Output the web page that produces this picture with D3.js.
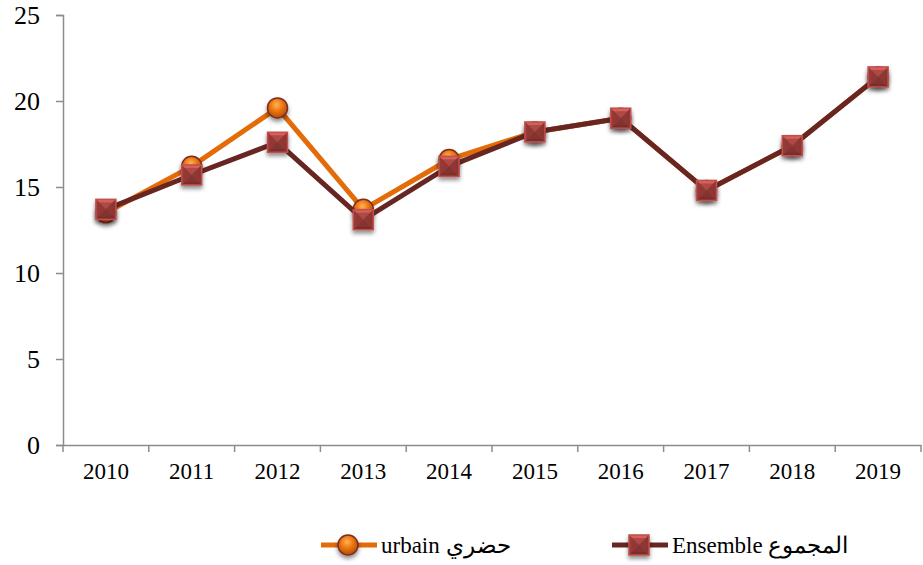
<!DOCTYPE html>
<html>
<head>
<meta charset="utf-8">
<script src="https://cdn.jsdelivr.net/npm/d3@7"></script>
<style>
  body { margin: 0; background: #fff; }
</style>
</head>
<body>
<svg id="chart" width="923" height="565"></svg>
<script>
// chart values
var years = ["2010", "2011", "2012", "2013", "2014", "2015", "2016", "2017", "2018", "2019"];
var urbain = [13.5, 16.2, 19.6, 13.7, 16.6, 18.2, 19.0, 14.8, 17.4, 21.4];
var ensemble = [13.7, 15.7, 17.6, 13.1, 16.2, 18.2, 19.0, 14.8, 17.4, 21.4];
var yTicks = [0, 5, 10, 15, 20, 25];
var seriesNames = ["urbain حضري", "Ensemble المجموع"];

var svg = d3.select("#chart");
var margin = { top: 15, left: 63, right: 2, bottom: 120 };
var width = 923 - margin.left - margin.right;
var height = 565 - margin.top - margin.bottom;

var chartGroup = svg.append("g")
  .attr("transform", `translate(${margin.left}, ${margin.top})`);

var defs = svg.append("defs");

// soft shadow under markers
var shadow = defs.append("filter").attr("id", "shadow")
  .attr("x", "-50%").attr("y", "-50%").attr("width", "200%").attr("height", "200%");
shadow.append("feDropShadow")
  .attr("dx", 0).attr("dy", 3).attr("stdDeviation", 2)
  .attr("flood-color", "#000").attr("flood-opacity", 0.45);

// orange ball gradient
var ball = defs.append("radialGradient").attr("id", "ball")
  .attr("cx", "45%").attr("cy", "35%").attr("r", "65%");
ball.append("stop").attr("offset", "0%").attr("stop-color", "#ffb25a");
ball.append("stop").attr("offset", "45%").attr("stop-color", "#ee7a12");
ball.append("stop").attr("offset", "100%").attr("stop-color", "#b24c05");

var x = d3.scaleBand().domain(years).range([0, width]);
var y = d3.scaleLinear().domain([0, 25]).range([height, 0]);

// y axis
var leftAxis = d3.axisLeft(y).tickValues(yTicks).tickSize(7).tickPadding(16);
var yAxis = chartGroup.append("g").call(leftAxis);
yAxis.select(".domain").attr("stroke", "#8c8c8c").attr("stroke-width", 1.5);
yAxis.selectAll(".tick line").attr("stroke", "#8c8c8c").attr("stroke-width", 1.5);
yAxis.selectAll("text")
  .attr("font-family", "Liberation Serif")
  .attr("font-size", 26)
  .attr("fill", "#000");

// x axis
var bottomAxis = d3.axisBottom(x).tickSize(0).tickPadding(18);
var xAxis = chartGroup.append("g")
  .attr("transform", `translate(0, ${height})`)
  .call(bottomAxis);
xAxis.select(".domain").attr("stroke", "#8c8c8c").attr("stroke-width", 1.5);
xAxis.selectAll("text")
  .attr("font-family", "Liberation Serif")
  .attr("font-size", 23)
  .attr("fill", "#000");

// tick marks between categories
xAxis.selectAll(".sep")
  .data(years.concat(["end"]))
  .enter()
  .append("line")
    .attr("x1", d => d === "end" ? width : x(d))
    .attr("x2", d => d === "end" ? width : x(d))
    .attr("y1", 0).attr("y2", 7)
    .attr("stroke", "#8c8c8c").attr("stroke-width", 1.5);

var cx = d => x(d) + x.bandwidth() / 2;
var line = d3.line().x(d => cx(d.year)).y(d => y(d.v));

var urbData = years.map((d, i) => ({ year: d, v: urbain[i] }));
var ensData = years.map((d, i) => ({ year: d, v: ensemble[i] }));

function drawBall(g, px, py) {
  g.append("circle")
    .attr("cx", px).attr("cy", py).attr("r", 10)
    .attr("fill", "url(#ball)")
    .attr("stroke", "#7e2b22").attr("stroke-width", 1.5)
    .attr("filter", "url(#shadow)");
}

function drawSquare(g, px, py) {
  var s = 10;
  var sq = g.append("g").attr("transform", `translate(${px}, ${py})`)
    .attr("filter", "url(#shadow)");
  sq.append("rect")
    .attr("x", -s).attr("y", -s).attr("width", 2 * s).attr("height", 2 * s)
    .attr("fill", "#a8423e");
  // bevelled pyramid faces
  var faces = [
    { p: [[-s, -s], [s, -s], [0, 0]], c: "#d5615b" },
    { p: [[-s, -s], [-s, s], [0, 0]], c: "#963a36" },
    { p: [[s, -s], [s, s], [0, 0]], c: "#8c3632" },
    { p: [[-s, s], [s, s], [0, 0]], c: "#7a2e2b" }
  ];
  sq.selectAll("path").data(faces).enter().append("path")
    .attr("d", d => "M" + d.p.join("L") + "Z")
    .attr("fill", d => d.c);
  sq.append("rect")
    .attr("x", -s + 3).attr("y", -s + 3).attr("width", 2 * s - 6).attr("height", 2 * s - 6)
    .attr("fill", "#8e3834").attr("opacity", 0.55);
  sq.append("rect")
    .attr("x", -s).attr("y", -s).attr("width", 2 * s).attr("height", 2 * s)
    .attr("fill", "none").attr("stroke", "#c0504d").attr("stroke-width", 1.5);
}

// urbain series
chartGroup.append("path")
  .datum(urbData)
  .attr("d", line)
  .attr("fill", "none")
  .attr("stroke", "#e36c09")
  .attr("stroke-width", 5)
  .attr("stroke-linejoin", "round");

var urbMarkers = chartGroup.append("g");
urbData.forEach(d => drawBall(urbMarkers, cx(d.year), y(d.v)));

// ensemble series
chartGroup.append("path")
  .datum(ensData)
  .attr("d", line)
  .attr("fill", "none")
  .attr("stroke", "#682622")
  .attr("stroke-width", 5)
  .attr("stroke-linejoin", "round");

var ensMarkers = chartGroup.append("g");
ensData.forEach(d => drawSquare(ensMarkers, cx(d.year), y(d.v)));

// legend
var legend = svg.append("g").attr("transform", "translate(0, 545)");

legend.append("line")
  .attr("x1", 321).attr("x2", 377).attr("y1", 0).attr("y2", 0)
  .attr("stroke", "#e36c09").attr("stroke-width", 5);
drawBall(legend, 348, 0);
legend.append("text")
  .attr("x", 381).attr("y", 8)
  .attr("font-family", "Liberation Serif")
  .attr("font-size", 23)
  .text(seriesNames[0]);

legend.append("line")
  .attr("x1", 612).attr("x2", 668).attr("y1", 0).attr("y2", 0)
  .attr("stroke", "#682622").attr("stroke-width", 5);
drawSquare(legend, 639, 0);
legend.append("text")
  .attr("x", 672).attr("y", 8)
  .attr("font-family", "Liberation Serif")
  .attr("font-size", 23)
  .text(seriesNames[1]);
</script>
</body>
</html>
